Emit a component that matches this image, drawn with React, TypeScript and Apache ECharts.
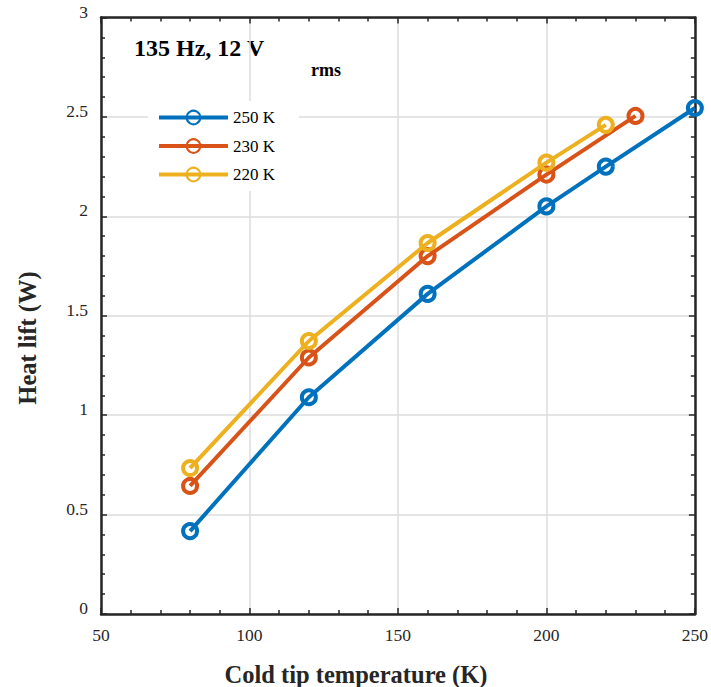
import React, { useEffect, useRef } from "react";
import * as echarts from "echarts";

const seriesNames = ["250 K", "230 K", "220 K"];
const colors = ["#0072BD", "#D95319", "#EDB120"];
const x250 = [80, 120, 160, 200, 220, 250];
const y250 = [0.417, 1.09, 1.61, 2.05, 2.25, 2.545];
const x230 = [80, 120, 160, 200, 230];
const y230 = [0.644, 1.29, 1.8, 2.21, 2.505];
const x220 = [80, 120, 160, 200, 220];
const y220 = [0.734, 1.373, 1.866, 2.27, 2.46];

const xs = [x250, x230, x220];
const ys = [y250, y230, y220];

const FONT = "Liberation Serif";

export default function App() {
  const ref = useRef<HTMLDivElement>(null);
  useEffect(() => {
    const chart = echarts.init(ref.current!, null, { renderer: "svg" });
    const axisCommon = {
      axisLine: { show: true, onZero: false, lineStyle: { color: "#262626", width: 2.5 } },
      axisTick: { show: true, inside: true, length: 6, lineStyle: { color: "#262626", width: 1.5 } },
      minorTick: { show: true, splitNumber: 5, length: 4, lineStyle: { color: "#262626", width: 1.5 } },
    };
    const option = {
      animation: false,
      backgroundColor: "#ffffff",
      grid: { left: 101, top: 17.5, right: 13.5, bottom: 73, containLabel: false },
      graphic: [
        {
          type: "text",
          left: 134,
          top: 36,
          style: { text: "135 Hz, 12 V", font: `bold 24px '${FONT}'`, fill: "#000" },
        },
        {
          type: "text",
          left: 311,
          top: 61,
          style: { text: "rms", font: `bold 18px '${FONT}'`, fill: "#000" },
        },
        {
          type: "text",
          x: 356,
          y: 674,
          style: {
            text: "Cold tip temperature (K)",
            font: `bold 24.5px '${FONT}'`,
            fill: "#262626",
            align: "center",
            verticalAlign: "middle",
          },
        },
        {
          type: "text",
          x: 27,
          y: 338,
          rotation: Math.PI / 2,
          style: {
            text: "Heat lift (W)",
            font: `bold 24.5px '${FONT}'`,
            fill: "#262626",
            align: "center",
            verticalAlign: "middle",
          },
        },
      ],
      legend: {
        orient: "vertical",
        left: 148,
        top: 101,
        padding: [8, 24, 8, 9],
        backgroundColor: "#ffffff",
        itemWidth: 69,
        itemHeight: 17,
        itemGap: 11.5,
        data: seriesNames,
        lineStyle: { width: 4 },
        textStyle: { fontFamily: FONT, fontSize: 17, color: "#000" },
      },
      xAxis: [
        {
          type: "value",
          min: 50,
          max: 250,
          interval: 50,
          position: "bottom",
          ...axisCommon,
          splitLine: { show: true, lineStyle: { color: "#dcdcdc", width: 1.5 } },
          axisLabel: { fontFamily: FONT, fontSize: 17.5, color: "#262626", margin: 12 },
        },
        {
          type: "value",
          min: 50,
          max: 250,
          interval: 50,
          position: "top",
          ...axisCommon,
          splitLine: { show: false },
          axisLabel: { show: false },
        },
      ],
      yAxis: [
        {
          type: "value",
          min: 0,
          max: 3,
          interval: 0.5,
          position: "left",
          ...axisCommon,
          splitLine: { show: true, lineStyle: { color: "#dcdcdc", width: 1.5 } },
          axisLabel: {
            fontFamily: FONT,
            fontSize: 17.5,
            color: "#262626",
            margin: 13,
            verticalAlign: "bottom",
            lineHeight: 12,
          },
        },
        {
          type: "value",
          min: 0,
          max: 3,
          interval: 0.5,
          position: "right",
          ...axisCommon,
          splitLine: { show: false },
          axisLabel: { show: false },
        },
      ],
      series: seriesNames.map((name, i) => ({
        name,
        type: "line",
        xAxisIndex: 0,
        yAxisIndex: 0,
        data: xs[i].map((x, j) => [x, ys[i][j]]),
        symbol: "circle",
        symbolSize: 14,
        showAllSymbol: true,
        lineStyle: { color: colors[i], width: 4 },
        itemStyle: { color: "rgba(255,255,255,0)", borderColor: colors[i], borderWidth: 4 },
        z: 3 + i,
      })),
    };
    chart.setOption(option as any);
    return () => chart.dispose();
  }, []);
  return (
    <div
      ref={ref}
      style={{ position: "fixed", left: 0, top: 0, width: 711, height: 687 }}
    />
  );
}
